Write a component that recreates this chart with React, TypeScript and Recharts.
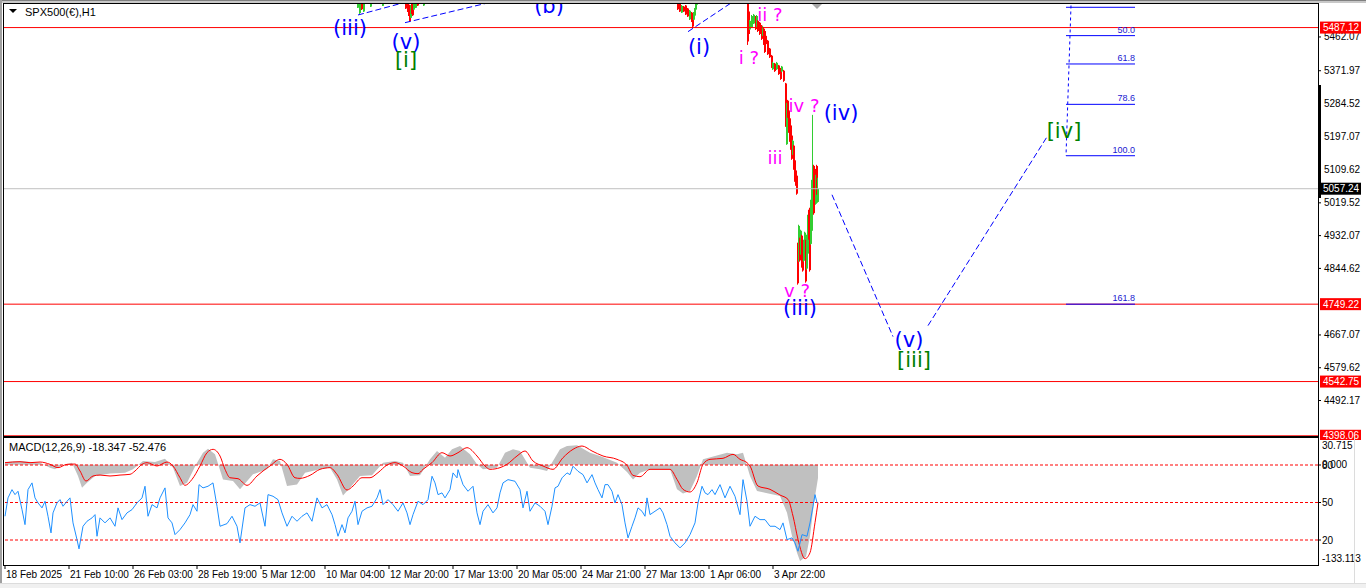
import React from 'react'
import {
  Area,
  Bar,
  ComposedChart,
  Line,
  ReferenceDot,
  ReferenceLine,
  XAxis,
  YAxis,
} from 'recharts'

const UI_FONT = '"Liberation Sans", Arial, sans-serif'
const WAVE_FONT = '"DejaVu Sans", Verdana, sans-serif'

// H1 bars, one pixel each. [bar, open, high, low, close]
// only the bars that dip into the visible window are listed, the rest sit above 5550
const candles: [number, number, number, number, number][] = [
  [354, 5540, 5556, 5539.4, 5552], [356, 5526, 5558, 5523.4, 5550], [358, 5551, 5553, 5534, 5536],
  [360, 5530, 5555, 5528.7, 5552], [367, 5543, 5552, 5542, 5550], [379, 5545, 5551, 5544.7, 5550],
  [402, 5555, 5556, 5536.7, 5538], [404, 5552, 5553, 5528.7, 5530], [405, 5548, 5549, 5518, 5520],
  [406, 5544, 5544.7, 5502, 5504], [407, 5513, 5547.3, 5512.7, 5545], [408, 5551, 5552, 5523.4, 5525],
  [409, 5546, 5547.3, 5518, 5520], [410, 5535, 5553, 5534, 5552], [412, 5540, 5556, 5539.4, 5555],
  [414, 5557, 5558, 5544.7, 5546], [420, 5546, 5560, 5544.7, 5558],
  [674, 5555, 5556, 5534, 5536], [676, 5550, 5552, 5528.7, 5530], [678, 5527, 5547.3, 5526, 5545],
  [680, 5543, 5544.7, 5528.7, 5530], [682, 5546, 5547.3, 5520.7, 5522], [684, 5538, 5539.4, 5515.4, 5517],
  [686, 5509, 5534, 5507.4, 5532], [688, 5527, 5528.7, 5502, 5504], [689, 5519, 5520.7, 5486, 5490],
  [690, 5508, 5528.7, 5507.4, 5527], [691, 5519, 5539.4, 5518, 5538], [692, 5535, 5552.7, 5534, 5551],
  [693, 5548, 5560, 5547.3, 5558],
  [744, 5570, 5575, 5440.8, 5450], [745, 5530, 5534, 5467.4, 5470], [746, 5482, 5507.4, 5480.7, 5505],
  [748, 5488, 5520.7, 5486, 5518], [750, 5498, 5523.4, 5496.7, 5521], [752, 5516, 5518, 5480.7, 5483],
  [753, 5488, 5520.7, 5486, 5518], [754, 5505, 5507.4, 5475.4, 5478], [756, 5500, 5502, 5467.4, 5470],
  [758, 5492, 5494, 5454.1, 5457], [759, 5466, 5491.4, 5464.7, 5489], [760, 5484, 5486, 5440.8, 5443],
  [761, 5478, 5480.7, 5419.4, 5422], [762, 5465, 5467.4, 5440.8, 5443], [764, 5452, 5454.1, 5414.1, 5416],
  [766, 5431, 5432.8, 5406.1, 5408], [768, 5412, 5414.1, 5379.5, 5382], [769, 5376, 5395.5, 5374.2, 5393],
  [771, 5391, 5392.8, 5368.8, 5371], [773, 5376, 5395.5, 5374.2, 5393], [775, 5386, 5387.5, 5360.8, 5363],
  [777, 5378, 5379.5, 5347.5, 5350], [778, 5370, 5384.8, 5368.8, 5383], [780, 5372, 5374.2, 5342.2, 5345],
  [782, 5338, 5339.5, 5222.3, 5226], [783, 5176, 5286.2, 5174.3, 5284], [784, 5292, 5294.2, 5246.3, 5249],
  [785, 5266, 5267.6, 5206.3, 5209], [786, 5245, 5246.3, 5182.3, 5185], [787, 5226, 5227.6, 5161, 5164],
  [788, 5199, 5201, 5134.3, 5137], [789, 5149, 5187.6, 5147.7, 5185], [790, 5172, 5174.3, 5107.7, 5110],
  [791, 5133, 5134.3, 5075.7, 5078], [792, 5106, 5107.7, 5065, 5067], [793, 5092, 5094.4, 5041.1, 5044],
  [794, 4911, 4913.2, 4801.3, 4805], [795, 4865, 4961.1, 4862.6, 4958], [796, 4924, 4926.6, 4862.6, 4866],
  [797, 4884, 4947.8, 4881.2, 4945], [798, 4932, 4934.5, 4846.6, 4850], [799, 4905, 4907.9, 4836, 4839],
  [800, 4865, 4921.2, 4862.6, 4918], [801, 4897, 4942.5, 4894.5, 4940], [802, 4919, 4921.2, 4806.6, 4810],
  [803, 4844, 4934.5, 4841.3, 4932], [804, 4884, 4987.8, 4881.2, 4985], [805, 4999, 5001.1, 4921.2, 4924],
  [806, 5004, 5006.4, 4836, 4840], [807, 4910, 5027.8, 4907.9, 5025], [808, 4945, 5081, 4942.5, 5078],
  [809, 5030, 5254.2, 5027.8, 5100], [810, 5118, 5121, 4987.8, 4992], [811, 5110, 5113, 5027.8, 5031],
  [812, 5017, 5094.4, 5014.4, 5091], [813, 5118, 5121, 5041.1, 5044], [814, 5022, 5086.4, 5019.8, 5057.24],
]

const priceTicks = [5462.07, 5371.97, 5284.52, 5197.07, 5109.62, 5019.52, 4932.07, 4844.62, 4667.07, 4579.62, 4492.17]
const redLevels = [5487.12, 4749.22, 4542.75, 4398.06]
const lastPrice = 5057.24

// fibo retracement anchors and levels
const fibHigh = 5786
const fibLow = 5145.2
const fibLevels = [38.2, 50.0, 61.8, 78.6, 100.0, 161.8]

// elliott wave marks: [text, bar, price, kind]
const waveLabels: [string, number, number, string][] = [
  ['(iii)', 346, 5486.1, 'minor'], ['(v)', 402, 5448.7, 'minor'], ['[i]', 402, 5400.8, 'major'],
  ['(b)', 545, 5544.7, 'minor'], ['(i)', 695, 5435.5, 'minor'], ['ii ?', 766, 5520.7, 'sub'],
  ['i ?', 745, 5406.1, 'sub'], ['iv ?', 800, 5278.2, 'sub'], ['(iv)', 837, 5259.6, 'minor'],
  ['iii', 771, 5139.7, 'sub'], ['v ?', 793, 4785.3, 'sub'], ['(iii)', 796, 4740.0, 'minor'],
  ['(v)', 905, 4654.7, 'minor'], ['[iii]', 910, 4601.4, 'major'], ['[iv]', 1060, 5211.6, 'major'],
]

// dashed channel and projection lines: [[bar, price], [bar, price]]
const waveLines: [[number, number], [number, number]][] = [
  [[354, 5520.7], [420, 5568]],
  [[401, 5500.2], [500, 5563.2]],
  [[684, 5476.2], [740, 5575.7]],
  [[828, 5041.1], [889, 4662.7]],
  [[924, 4692.0], [1043, 5195.6]],
]

// MACD(12,26,9): histogram and signal, [bar, value]
const histPoints: [number, number][] = [
  [1, 3.7], [16, 5.1], [36, 2.8], [46, -4.1], [51, -6.4], [58, -0.9], [68, 2.8], [74, -15.6], [78, -31.8],
  [83, -24.9], [91, -15.6], [106, -12], [121, -11], [129, -6.4], [139, 5.1], [151, 3.7], [161, 8.3],
  [169, -4.1], [176, -29.5], [183, -24.9], [193, 2.8], [199, 16.6], [204, 22.1], [211, 14.3], [219, -20.3],
  [229, -22.6], [236, -34], [249, -13.3], [263, -6.4], [269, 7.4], [276, 5.1], [283, -29.5], [293, -27.2],
  [301, -11], [316, -6.4], [326, -4.1], [333, -20.3], [339, -42.4], [346, -31.8], [356, -15.6], [368, -14.7],
  [379, 2.8], [391, 5.1], [399, 2.8], [406, -15.6], [416, -14.7], [426, 7.4], [433, 18.9], [441, 9.7],
  [448, 21.2], [456, 25.8], [466, 14.3], [473, 0.5], [479, -6.4], [493, -4.1], [501, 16.6], [509, 21.2],
  [516, 18.9], [526, -4.1], [536, -6.4], [543, -8.7], [556, 21.2], [563, 25.8], [573, 26.7], [586, 16.6],
  [596, 12], [613, 2.8], [623, -10.1], [629, -20.3], [636, -11], [646, -6.4], [666, -6.4], [673, -34],
  [679, -39.6], [686, -36.4], [693, -15.6], [699, 7.4], [711, 12], [723, 16.6], [733, 14.3], [739, 16.6],
  [746, -15.6], [753, -36.4], [761, -38.7], [769, -41], [776, -43.3], [783, -66.3], [788, -98.5],
  [793, -121.5], [796, -133.1], [802, -127.1], [806, -98.5], [810, -52.5], [814, -18.3],
]

const signalPoints: [number, number][] = [
  [1, 2.8], [16, 4.1], [26, 2.8], [36, 3.7], [46, 0.5], [54, -4.1], [63, 0.5], [71, 0.9], [76, -8.7],
  [82, -22.6], [89, -15.6], [96, -14.3], [106, -15.6], [116, -14.3], [126, -13.3], [131, -8.7], [138, 0.5],
  [143, 2.8], [153, -1.8], [163, 3.7], [169, -1.8], [176, -18], [181, -28.5], [188, -20.3], [196, -1.8],
  [203, 16.6], [209, 21.2], [216, 12], [221, -6.4], [226, -18], [234, -19.3], [243, -28.5], [253, -15.6],
  [259, -8.7], [266, -1.8], [276, 7.4], [283, 0.5], [291, -18], [296, -18.9], [306, -14.7], [316, -6.4],
  [326, -4.1], [333, -13.3], [343, -35], [349, -29.5], [358, -18], [366, -18], [374, -11], [383, -0.5],
  [391, 2.8], [399, -1.8], [408, -11], [414, -12.4], [419, -6.4], [428, 2.8], [438, 16.6], [446, 12],
  [454, 16.6], [463, 23.5], [473, 12], [481, -1.8], [486, -6.4], [496, -4.1], [503, 0.5], [513, 12],
  [521, 18.9], [529, 5.1], [539, -1.8], [549, -6.4], [559, 9.7], [569, 21.2], [578, 25.8], [588, 18.9],
  [599, 12], [613, 7.4], [623, -0.9], [629, -14.7], [636, -16.6], [646, -6.4], [666, -6.4], [673, -20.3],
  [679, -34], [686, -37.7], [693, -24.9], [699, 0.5], [706, 7.4], [719, 8.8], [729, 14.3], [736, 7.4],
  [743, 2.8], [746, -1.8], [754, -29.5], [766, -34], [776, -41.9], [784, -47.9], [789, -70.9], [794, -103],
  [801, -129.8], [806, -121.5], [811, -80.1], [814, -52.476],
]

// blue oscillator on a 0..100 scale, [bar, value]
const oscPoints: [number, number][] = [
  [1, 39], [4, 53.7], [8, 60.3], [11, 56.3], [14, 59], [18, 44.3], [21, 32.3], [24, 60.3], [28, 65.7],
  [31, 53.7], [34, 49.7], [38, 45.7], [41, 51], [44, 39], [47, 25.7], [49, 41.7], [53, 49.7], [56, 52.3],
  [59, 47], [63, 51], [66, 53.7], [69, 33.7], [73, 20.3], [75, 12.9], [79, 31], [83, 35], [88, 37.7],
  [91, 40.3], [93, 23], [96, 37.7], [101, 33.7], [106, 37.7], [111, 31], [114, 45.7], [118, 36.3],
  [123, 41.7], [128, 44.3], [133, 49.7], [138, 53.7], [141, 63], [144, 39], [148, 48.3], [153, 45.7],
  [156, 53.7], [161, 61.7], [164, 37.7], [168, 33.7], [171, 24.3], [176, 28.3], [181, 33.7], [186, 40.3],
  [189, 48.3], [193, 43], [195, 64.3], [199, 61.7], [204, 63], [209, 65.7], [213, 47], [216, 31],
  [223, 33.1], [228, 39], [233, 31], [236, 17.7], [241, 45.7], [246, 48.3], [251, 47], [256, 49.7],
  [261, 31], [264, 56.3], [269, 55], [274, 52.3], [278, 41.7], [283, 31], [288, 39], [293, 35], [298, 39],
  [303, 41.7], [308, 35], [313, 53.7], [318, 45.7], [323, 48.3], [328, 40.3], [331, 32.3], [334, 23],
  [338, 32.3], [341, 25.7], [344, 37.7], [348, 43], [351, 51], [354, 32.3], [358, 43], [363, 45.7],
  [368, 47], [373, 53.7], [376, 60.3], [379, 48.3], [384, 52.3], [389, 48.3], [394, 43], [399, 49.7],
  [403, 41.7], [406, 32.3], [409, 40.3], [414, 51], [419, 48.3], [424, 52.3], [428, 71], [431, 65.7],
  [434, 56.3], [438, 57.7], [441, 53.7], [446, 60.3], [449, 73.7], [453, 69.7], [454, 76.3], [459, 64.3],
  [464, 59], [469, 63], [473, 41.7], [476, 32.3], [479, 43], [484, 48.3], [489, 41.7], [493, 45.7],
  [496, 57.7], [499, 65.7], [504, 68.3], [511, 67], [516, 60.3], [519, 45.7], [523, 59], [526, 43],
  [531, 49.7], [536, 47], [541, 43], [544, 32.3], [548, 47], [551, 61.7], [554, 63], [558, 69.7],
  [563, 73.7], [566, 72.3], [569, 79], [574, 75], [579, 72.3], [583, 65.7], [588, 72.3], [591, 65.7],
  [594, 60.3], [598, 53.7], [601, 64.3], [604, 64.3], [608, 59], [611, 49.7], [614, 56.3], [618, 48.3],
  [621, 33.7], [624, 21.7], [628, 31], [631, 37.7], [634, 45.7], [638, 43], [641, 39], [643, 53.7],
  [646, 40.3], [651, 43], [656, 45.7], [659, 41.7], [663, 32.3], [666, 23], [671, 17.7], [676, 13.7],
  [681, 17.7], [686, 24.3], [691, 33.7], [694, 49.7], [698, 63], [701, 57.7], [704, 56.3], [708, 60.3],
  [711, 56.3], [716, 64.3], [721, 53.7], [726, 63], [731, 55], [736, 40.3], [739, 68.3], [743, 51],
  [746, 31], [751, 39], [756, 36.3], [761, 36.3], [766, 31], [771, 31], [776, 28.3], [779, 33.7],
  [783, 20.3], [788, 21.7], [791, 17.7], [794, 11], [798, 24.3], [803, 23], [806, 33.7], [809, 47],
  [811, 56.3], [813, 49.7],
]

const oscLevels = [80, 50, 20]
const macdTicks = [30.715, 0, -133.113]

const timeLabels = [
  '18 Feb 2025', '21 Feb 10:00', '26 Feb 03:00', '28 Feb 19:00', '5 Mar 12:00', '10 Mar 04:00',
  '12 Mar 20:00', '17 Mar 13:00', '20 Mar 05:00', '24 Mar 21:00', '27 Mar 13:00', '1 Apr 06:00', '3 Apr 22:00',
]
const timeTickBars = timeLabels.map((_, i) => 1 + 64 * i)

const priceData = candles.map(([bar, open, high, low, close]) => ({ bar, range: [low, high], open, high, low, close }))

const macdRows = new Map<number, any>()
const put = (pts: [number, number][], key: string) =>
  pts.forEach(([bar, v]) => {
    const row = macdRows.get(bar) ?? { bar }
    row[key] = v
    macdRows.set(bar, row)
  })
put(histPoints, 'hist')
put(signalPoints, 'signal')
put(oscPoints, 'osc')
const macdData = [...macdRows.values()].sort((a, b) => a.bar - b.bar)

const AXIS_X = 1318
const WAVE_STYLE: Record<string, { fill: string; size: number }> = {
  minor: { fill: '#0000ff', size: 21 },
  major: { fill: '#008000', size: 21 },
  sub: { fill: '#ff00ff', size: 18 },
}

function Candle(props: any) {
  const { x, y, width, height, payload } = props
  const up = payload.close >= payload.open
  const top = Math.min(y, y + height)
  const h = Math.max(1, Math.abs(height))
  const span = payload.high - payload.low || 1
  const py = (v: number) => top + ((payload.high - v) / span) * h
  const bTop = py(Math.max(payload.open, payload.close))
  const bBot = py(Math.min(payload.open, payload.close))
  const cx = Math.round(x + width / 2 - 0.5)
  const color = up ? '#32cd32' : '#ff0000'
  return (
    <g>
      <rect x={cx} y={top} width={1} height={h} fill={color} />
      <rect x={cx} y={bTop} width={2} height={Math.max(1, bBot - bTop)} fill={color} />
    </g>
  )
}

function PriceTick(props: any) {
  const { y, payload } = props
  const v = payload.value
  const boxed = redLevels.includes(v) || v === lastPrice
  if (boxed) {
    return (
      <g>
        <rect x={AXIS_X + 2} y={y - 6} width={41} height={12} fill={v === lastPrice ? '#000' : '#ff0000'} />
        <text x={AXIS_X + 5} y={y} dominantBaseline="central" fill="#fff" fontSize={10} fontFamily={UI_FONT}>
          {v.toFixed(2)}
        </text>
      </g>
    )
  }
  return (
    <g>
      <line x1={AXIS_X} x2={AXIS_X + 3} y1={y} y2={y} stroke="#000" />
      <text x={AXIS_X + 6} y={y} dominantBaseline="central" fill="#000" fontSize={10} fontFamily={UI_FONT}>
        {v.toFixed(2)}
      </text>
    </g>
  )
}

function MacdTick(props: any) {
  const { y, payload } = props
  const v = payload.value
  const dy = v > 0 ? 3 : v < 0 ? -3 : 0
  return (
    <text x={AXIS_X + 4} y={y + dy} dominantBaseline="central" fill="#000" fontSize={10} fontFamily={UI_FONT}>
      {v.toFixed(3)}
    </text>
  )
}

function OscTick(props: any) {
  const { y, payload } = props
  return (
    <g>
      <line x1={AXIS_X} x2={AXIS_X + 3} y1={y} y2={y} stroke="#000" />
      <text x={AXIS_X + 4} y={y} dominantBaseline="central" fill="#000" fontSize={10} fontFamily={UI_FONT}>
        {payload.value}
      </text>
    </g>
  )
}

function TimeTick(props: any) {
  const { x, payload } = props
  const label = timeLabels[timeTickBars.indexOf(payload.value)]
  return (
    <g>
      <line x1={x} x2={x} y1={127} y2={131} stroke="#000" />
      <text x={x + 1} y={136} dominantBaseline="central" fill="#000" fontSize={10} fontFamily={UI_FONT}>
        {label}
      </text>
    </g>
  )
}

const waveText = (text: string, kind: string) => (p: any) => {
  const s = WAVE_STYLE[kind]
  return (
    <text
      x={p.cx}
      y={p.cy}
      textAnchor="middle"
      dominantBaseline="central"
      fill={s.fill}
      fontSize={s.size}
      fontFamily={WAVE_FONT}
    >
      {text}
    </text>
  )
}

const fibText = (text: string) => (p: any) => (
  <text x={p.cx} y={p.cy - 3} textAnchor="end" fill="#1818d0" fontSize={9} fontFamily={UI_FONT}>
    {text}
  </text>
)

const abs = (style: React.CSSProperties): React.CSSProperties => ({ position: 'absolute', ...style })

export default function App() {
  return (
    <div style={abs({ left: 0, top: 0, width: 1366, height: 588, background: '#fff', overflow: 'hidden', fontFamily: UI_FONT })}>
      {/* price panel */}
      <div style={abs({ left: 0, top: 0 })}>
        <ComposedChart width={1366} height={440} data={priceData} margin={{ top: 4, right: 0, bottom: 4, left: 4 }}>
          <XAxis type="number" dataKey="bar" domain={[0, 1314]} hide allowDataOverflow />
          <YAxis
            orientation="right"
            width={48}
            domain={[4397.5, 5550]}
            allowDataOverflow
            ticks={[...priceTicks, ...redLevels, lastPrice]}
            interval={0}
            tick={<PriceTick />}
            axisLine={false}
            tickLine={false}
          />
          {redLevels.map((v) => (
            <ReferenceLine key={v} y={v} stroke="#ff0000" />
          ))}
          <ReferenceLine y={lastPrice} stroke="#c0c0c0" />
          <Bar dataKey="range" barSize={1} shape={<Candle />} isAnimationActive={false} />
          {waveLines.map(([a, b], i) => (
            <ReferenceLine
              key={'w' + i}
              segment={[{ x: a[0], y: a[1] }, { x: b[0], y: b[1] }]}
              stroke="#0000ff"
              strokeDasharray="6 3"
              ifOverflow="hidden"
            />
          ))}
          <ReferenceLine
            segment={[{ x: 1070, y: fibHigh }, { x: 1062, y: fibLow }]}
            stroke="#0000ff"
            strokeDasharray="3 3"
            ifOverflow="hidden"
          />
          {fibLevels.map((lv) => {
            const price = fibHigh - (lv / 100) * (fibHigh - fibLow)
            return (
              <ReferenceLine
                key={'f' + lv}
                segment={[{ x: 1062, y: price }, { x: 1131, y: price }]}
                stroke="#0000ff"
                ifOverflow="hidden"
              />
            )
          })}
          {fibLevels.map((lv) => (
            <ReferenceDot
              key={'ft' + lv}
              x={1131}
              y={fibHigh - (lv / 100) * (fibHigh - fibLow)}
              r={1}
              ifOverflow="hidden"
              shape={fibText(lv.toFixed(1))}
            />
          ))}
          {waveLabels.map(([text, bar, price, kind], i) => (
            <ReferenceDot key={'l' + i} x={bar} y={price} r={1} ifOverflow="hidden" shape={waveText(text, kind)} />
          ))}
        </ComposedChart>
      </div>

      {/* MACD panel */}
      <div style={abs({ left: 0, top: 438 })}>
        <ComposedChart width={1366} height={150} data={macdData} margin={{ top: 2, right: 0, bottom: 1, left: 4 }}>
          <XAxis
            type="number"
            dataKey="bar"
            domain={[0, 1314]}
            allowDataOverflow
            ticks={timeTickBars}
            interval={0}
            tick={<TimeTick />}
            tickLine={false}
            axisLine={false}
            height={22}
          />
          <YAxis
            yAxisId="macd"
            orientation="right"
            width={1}
            domain={[-138.5, 34.1]}
            allowDataOverflow
            ticks={macdTicks}
            interval={0}
            tick={<MacdTick />}
            axisLine={false}
            tickLine={false}
          />
          <YAxis
            yAxisId="osc"
            orientation="right"
            width={47}
            domain={[0, 100]}
            ticks={oscLevels}
            interval={0}
            tick={<OscTick />}
            axisLine={false}
            tickLine={false}
          />
          <Area
            yAxisId="macd"
            dataKey="hist"
            type="linear"
            baseValue={0}
            fill="#c0c0c0"
            fillOpacity={1}
            stroke="none"
            connectNulls
            isAnimationActive={false}
          />
          {oscLevels.map((v) => (
            <ReferenceLine key={v} yAxisId="osc" y={v} stroke="#ff0000" strokeDasharray="3 2" />
          ))}
          <Line
            yAxisId="macd"
            dataKey="signal"
            type="monotone"
            stroke="#ff0000"
            strokeWidth={1}
            dot={false}
            connectNulls
            isAnimationActive={false}
          />
          <Line
            yAxisId="osc"
            dataKey="osc"
            type="linear"
            stroke="#1e90ff"
            strokeWidth={1}
            dot={false}
            connectNulls
            isAnimationActive={false}
          />
        </ComposedChart>
      </div>

      {/* window chrome and panel frames, drawn over the plots */}
      <div style={abs({ left: 0, top: 0, width: 1366, height: 1, background: '#808080' })} />
      <div style={abs({ left: 0, top: 1, width: 1366, height: 2, background: '#c8c8c8' })} />
      <div style={abs({ left: 0, top: 0, width: 2, height: 588, background: '#a0a0a0' })} />
      <div style={abs({ left: 0, top: 583, width: 1366, height: 5, background: '#f0f0f0', borderTop: '1px solid #dcdcdc' })} />
      <div style={abs({ left: 1354, top: 437, width: 1, height: 146, background: '#dcdcdc' })} />
      <div style={abs({ left: 3, top: 3, width: 1316, height: 434, boxSizing: 'border-box', border: '1px solid #000', pointerEvents: 'none' })} />
      <div style={abs({ left: 1318, top: 85, width: 3, height: 113, background: '#000' })} />
      <svg style={abs({ left: 812, top: 4 })} width={12} height={6}>
        <polygon points="0,0 10,0 5,5" fill="#a8a8a8" />
      </svg>
      <div style={abs({ left: 9, top: 6, fontSize: 11, color: '#000', display: 'flex', alignItems: 'center', whiteSpace: 'nowrap' })}>
        <svg width={10} height={6} style={{ marginRight: 6 }}>
          <polygon points="0,0 8,0 4,4" fill="#000" />
        </svg>
        SPX500(€),H1
      </div>
      <div style={abs({ left: 3, top: 437, width: 1316, height: 129, boxSizing: 'border-box', border: '1px solid #000', pointerEvents: 'none' })} />
      <div style={abs({ left: 9, top: 441, fontSize: 11, color: '#000', whiteSpace: 'nowrap' })}>
        MACD(12,26,9) -18.347 -52.476
      </div>
    </div>
  )
}
